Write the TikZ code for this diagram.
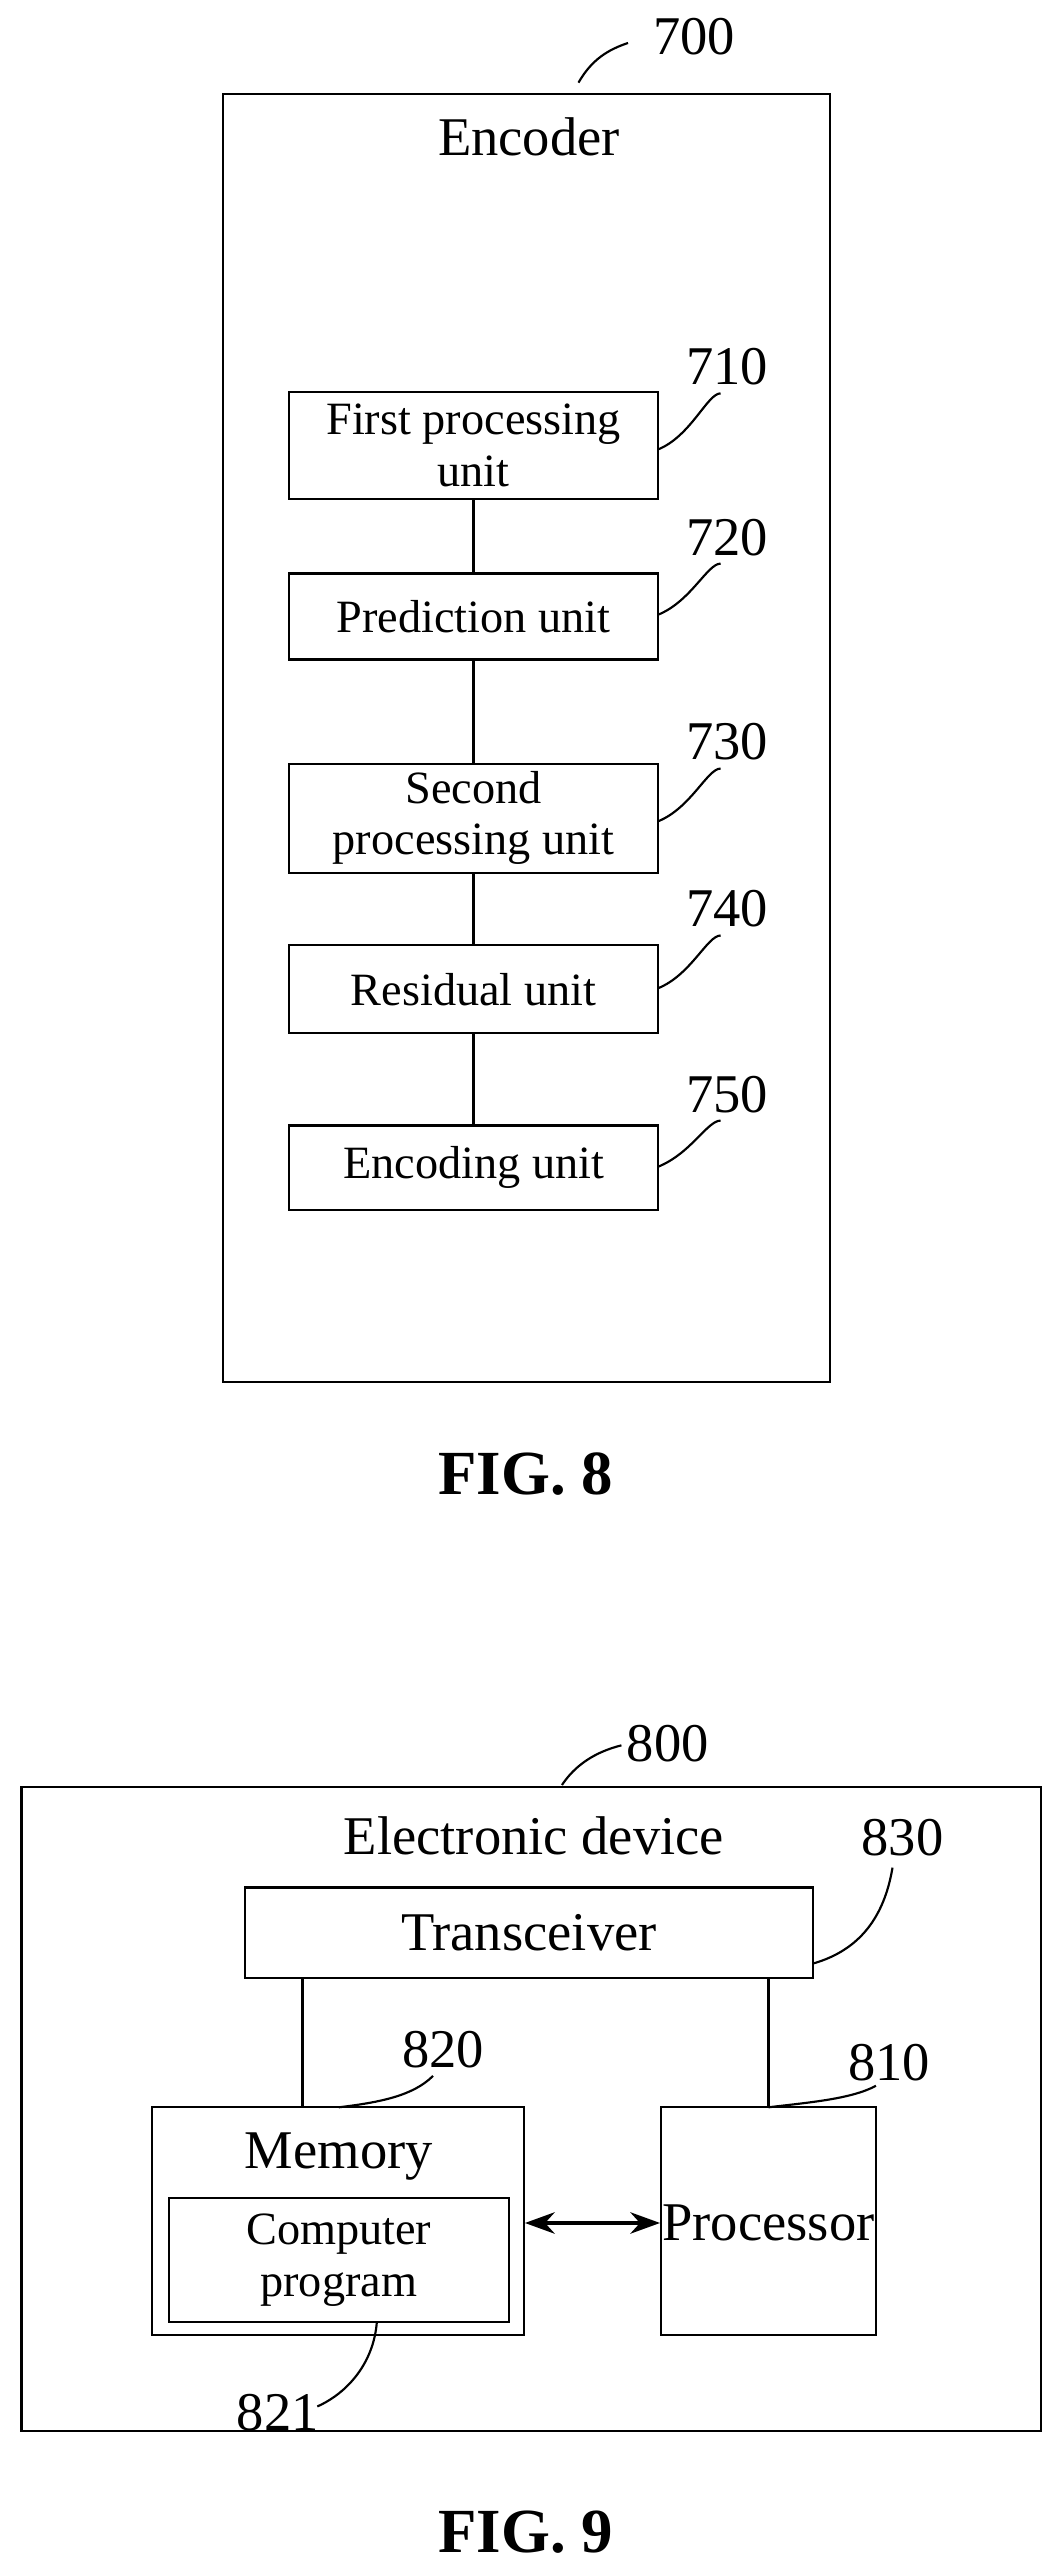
\documentclass[tikz,border=0pt]{standalone}
\usepackage{fontspec}
\setmainfont{Liberation Serif}
\usetikzlibrary{arrows.meta}
\begin{document}
\begin{tikzpicture}[x=1pt,y=-1pt,line width=1.3pt,
 box/.style={draw,inner sep=0pt,align=center,font=\fontsize{28}{31}\selectfont},
 lbl/.style={font=\fontsize{33}{35}\selectfont},
 title/.style={font=\fontsize{33}{35}\selectfont},
 fig/.style={font=\bfseries\fontsize{38}{40}\selectfont}]
\useasboundingbox (0,0) rectangle (640,1558);
% FIG 8
\draw (135,57) rectangle (502,836);
\node[title] (enc) at (320,83) {Encoder};
\node[lbl] (l700) at (420,22) {700};
\draw (350,50) .. controls (358,36) and (368,30) .. (380,26);
\node[box,minimum width=223pt,minimum height=65pt] (b710) at (286.5,269.5) {First processing\\unit};
\node[box,minimum width=223pt,minimum height=52pt] (b720) at (286.5,373) {Prediction unit};
\node[box,minimum width=223pt,minimum height=66pt] (b730) at (286.5,495) {Second\\processing unit};
\node[box,minimum width=223pt,minimum height=53pt] (b740) at (286.5,598.5) {Residual unit};
\node[box,minimum width=223pt,minimum height=51pt] (b750) at (286.5,706.5) {Encoding unit};
\foreach \n/\y/\t in {710/222/272,720/325/372,730/449/497,740/550/598,750/662/706}{
 \node[lbl] (l\n) at (440,\y) {\n};
 \draw (398,\t) .. controls (418,\t-8) and (428,\y+16) .. (436,\y+16);
}
\draw (b710) -- (b720); \draw (b720) -- (b730); \draw (b730) -- (b740); \draw (b740) -- (b750);
\node[fig] (f8) at (318,892) {FIG. 8};
% FIG 9
\draw (13,1081) rectangle (630,1471);
\node[lbl] (l800) at (404,1055) {800};
\draw (340,1080) .. controls (348,1068) and (360,1060) .. (376,1056);
\node[title] (ed) at (323,1111) {Electronic device};
\node[box,minimum width=344pt,minimum height=55pt,font=\fontsize{33}{35}\selectfont] (tr) at (320,1169.5) {Transceiver};
\node[lbl] (l830) at (546,1112) {830};
\draw (492,1188) .. controls (520,1180) and (535,1160) .. (540,1130);
\node[box,minimum width=225pt,minimum height=138pt] (mem) at (204.5,1344) {};
\node[title] (memt) at (205,1305) {Memory};
\node[box,minimum width=206pt,minimum height=75pt] (cp) at (205,1367.5) {Computer\\program};
\node[box,minimum width=130pt,minimum height=138pt] (pr) at (465,1344) {};
\node[title] (prt) at (465,1345) {Processor};
\node[lbl] (l820) at (268,1240) {820};
\draw (205,1275) .. controls (230,1272) and (250,1268) .. (262,1256);
\node[lbl] (l810) at (538,1248) {810};
\node[lbl] (l821) at (168,1460) {821};
\draw (228,1405) .. controls (226,1430) and (210,1448) .. (192,1456);
\draw (465,1275) .. controls (490,1272) and (515,1270) .. (530,1262);
\draw (183,1197) -- (183,1275);
\draw (465,1197) -- (465,1275);
\draw[line width=2pt,{Stealth[length=18pt,width=13pt]}-{Stealth[length=18pt,width=13pt]}] (mem.east |- 0,1345) -- (pr.west |- 0,1345);
\node[fig] (f9) at (318,1532) {FIG. 9};
\end{tikzpicture}
\end{document}
